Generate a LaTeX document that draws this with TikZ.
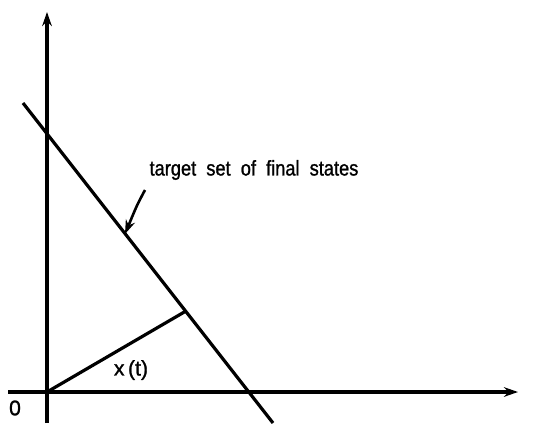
\documentclass[tikz,border=0pt]{standalone}
\usepackage{fontspec}
\setmainfont{Liberation Sans}
\newfontfamily\lblfont[FakeBold=1.2]{Liberation Sans}
\usetikzlibrary{arrows.meta, positioning}

\begin{document}
\begin{tikzpicture}[x=0.5pt, y=-0.5pt, >={Stealth[length=7pt, width=4.8pt]},
      line width=1.6pt, every node/.style={font=\lblfont\fontsize{10.6}{12}\selectfont}]
    \useasboundingbox (0,0) rectangle (539,423);
    % axes
    \coordinate (O) at (47,392);
    \coordinate (ytop) at (47,12);
    \coordinate (ybot) at (47,423);
    \coordinate (xleft) at (8,392);
    \coordinate (xright) at (518,392);
    \draw[->] (ybot) -- (ytop);
    \draw[->] (xleft) -- (xright);
    \node (zero) at (15,408) {0};
    \fill (O) circle (2.8);

    % target set
    \coordinate (tgtA) at (23,103);
    \coordinate (tgtB) at (273,423);
    \draw (tgtA) -- (tgtB);
    \node[anchor=west, inner sep=0pt] (tgtlabel) at (148,170)
      {\scalebox{0.86}[1]{target\ \ set\ \ of\ \ final\ \ states}};
    \coordinate (tip) at (125,234);
    \draw[->, line width=1.3pt] (145,190) .. controls (137,205) .. (tip);

    % state
    \coordinate (xt) at (186,311);
    \draw (O) -- (xt);
    \node (xtlabel) at (131,370) {x\,(t)};
\end{tikzpicture}
\end{document}
